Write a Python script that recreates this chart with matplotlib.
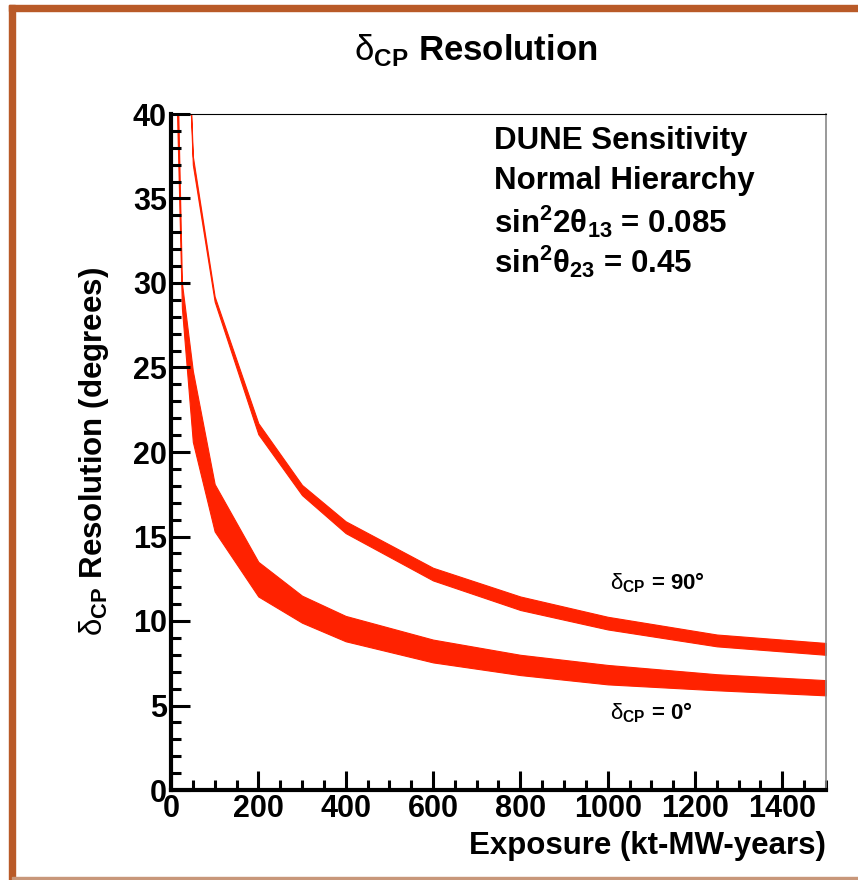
import matplotlib
matplotlib.use("Agg")
import matplotlib.pyplot as plt
from matplotlib.patches import Rectangle
from matplotlib.ticker import MultipleLocator

plt.rcParams['font.family'] = ['Liberation Sans', 'DejaVu Sans']
plt.rcParams['mathtext.fontset'] = 'custom'
plt.rcParams['mathtext.rm'] = 'Liberation Sans'
plt.rcParams['mathtext.bf'] = 'Liberation Sans:bold'

# exposure points (kt-MW-years) and band edges (degrees)
exp_0 = [10, 25, 50, 100, 200, 300, 400, 600, 800, 1000, 1250, 1500]
res0_hi = [48, 30.0, 24.8, 18.1, 13.5, 11.5, 10.3, 8.9, 8.0, 7.4, 6.85, 6.5]
res0_lo = [44, 28.5, 20.6, 15.3, 11.45, 9.9, 8.8, 7.55, 6.8, 6.25, 5.9, 5.6]

exp_90 = [25, 50, 100, 200, 300, 400, 600, 800, 1000, 1250, 1500]
res90_hi = [55, 37.5, 29.2, 21.7, 18.05, 15.9, 13.15, 11.45, 10.25, 9.2, 8.7]
res90_lo = [54, 37.0, 28.9, 21.05, 17.45, 15.2, 12.4, 10.65, 9.5, 8.5, 8.0]

band_color = '#ff2200'
dcp = r'$\mathrm{\delta}_\mathbf{CP}$'

fig = plt.figure(figsize=(8.58, 8.80), dpi=100)

# orange frame
fig.patches.append(Rectangle((9/858, 869/880), 1.0, 6/880, transform=fig.transFigure,
                             color='#b95a28', zorder=0))
fig.patches.append(Rectangle((9/858, 0), 6/858, 875/880, transform=fig.transFigure,
                             color='#b95a28', zorder=0))
fig.patches.append(Rectangle((12/858, 1/880), 1.0, 2/880, transform=fig.transFigure,
                             color='#c8977a', zorder=0))

ax = fig.add_axes([171/858, 90/880, 655/858, 676/880])

ax.fill_between(exp_0, res0_lo, res0_hi, color=band_color, lw=0.8, ec=band_color)
ax.fill_between(exp_90, res90_lo, res90_hi, color=band_color, lw=0.8, ec=band_color)

ax.set_xlim(0, 1500)
ax.set_ylim(0, 40)

ax.xaxis.set_major_locator(MultipleLocator(200))
ax.xaxis.set_minor_locator(MultipleLocator(50))
ax.yaxis.set_major_locator(MultipleLocator(5))
ax.yaxis.set_minor_locator(MultipleLocator(1))

ax.tick_params(which='both', direction='in', width=2.2, color='black',
               top=False, right=False)
ax.tick_params(which='major', length=14, labelsize=22, pad=3)
ax.tick_params(which='minor', length=7)
for lab in ax.get_xticklabels() + ax.get_yticklabels():
    lab.set_fontweight('bold')

ax.spines['left'].set_linewidth(3)
ax.spines['bottom'].set_linewidth(3)
ax.spines['top'].set_linewidth(0.8)
ax.spines['right'].set_linewidth(1.2)
ax.spines['right'].set_color('#888888')

ax.set_xlabel('Exposure (kt-MW-years)', fontsize=22.5, fontweight='bold', loc='right', labelpad=5)
ax.set_ylabel(dcp + ' Resolution (degrees)', fontsize=22.5, fontweight='bold', labelpad=16)

fig.text(476/858, 1 - 50/880, dcp + ' Resolution', fontsize=25, fontweight='bold',
         ha='center', va='center')

info = ['DUNE Sensitivity', 'Normal Hierarchy',
        r'sin$^\mathbf{2}$2θ$_\mathbf{13}$ = 0.085',
        r'sin$^\mathbf{2}$θ$_\mathbf{23}$ = 0.45']
for i, s in enumerate(info):
    ax.text(0.493, 0.96 - i * 0.0595, s, transform=ax.transAxes, fontsize=22.5,
            fontweight='bold', ha='left', va='center')

ax.text(1005, 12.25, dcp + ' = 90°', fontsize=16, fontweight='bold', ha='left', va='center')
ax.text(1005, 4.55, dcp + ' = 0°', fontsize=16, fontweight='bold', ha='left', va='center')

fig.savefig('out.png', dpi=100)
